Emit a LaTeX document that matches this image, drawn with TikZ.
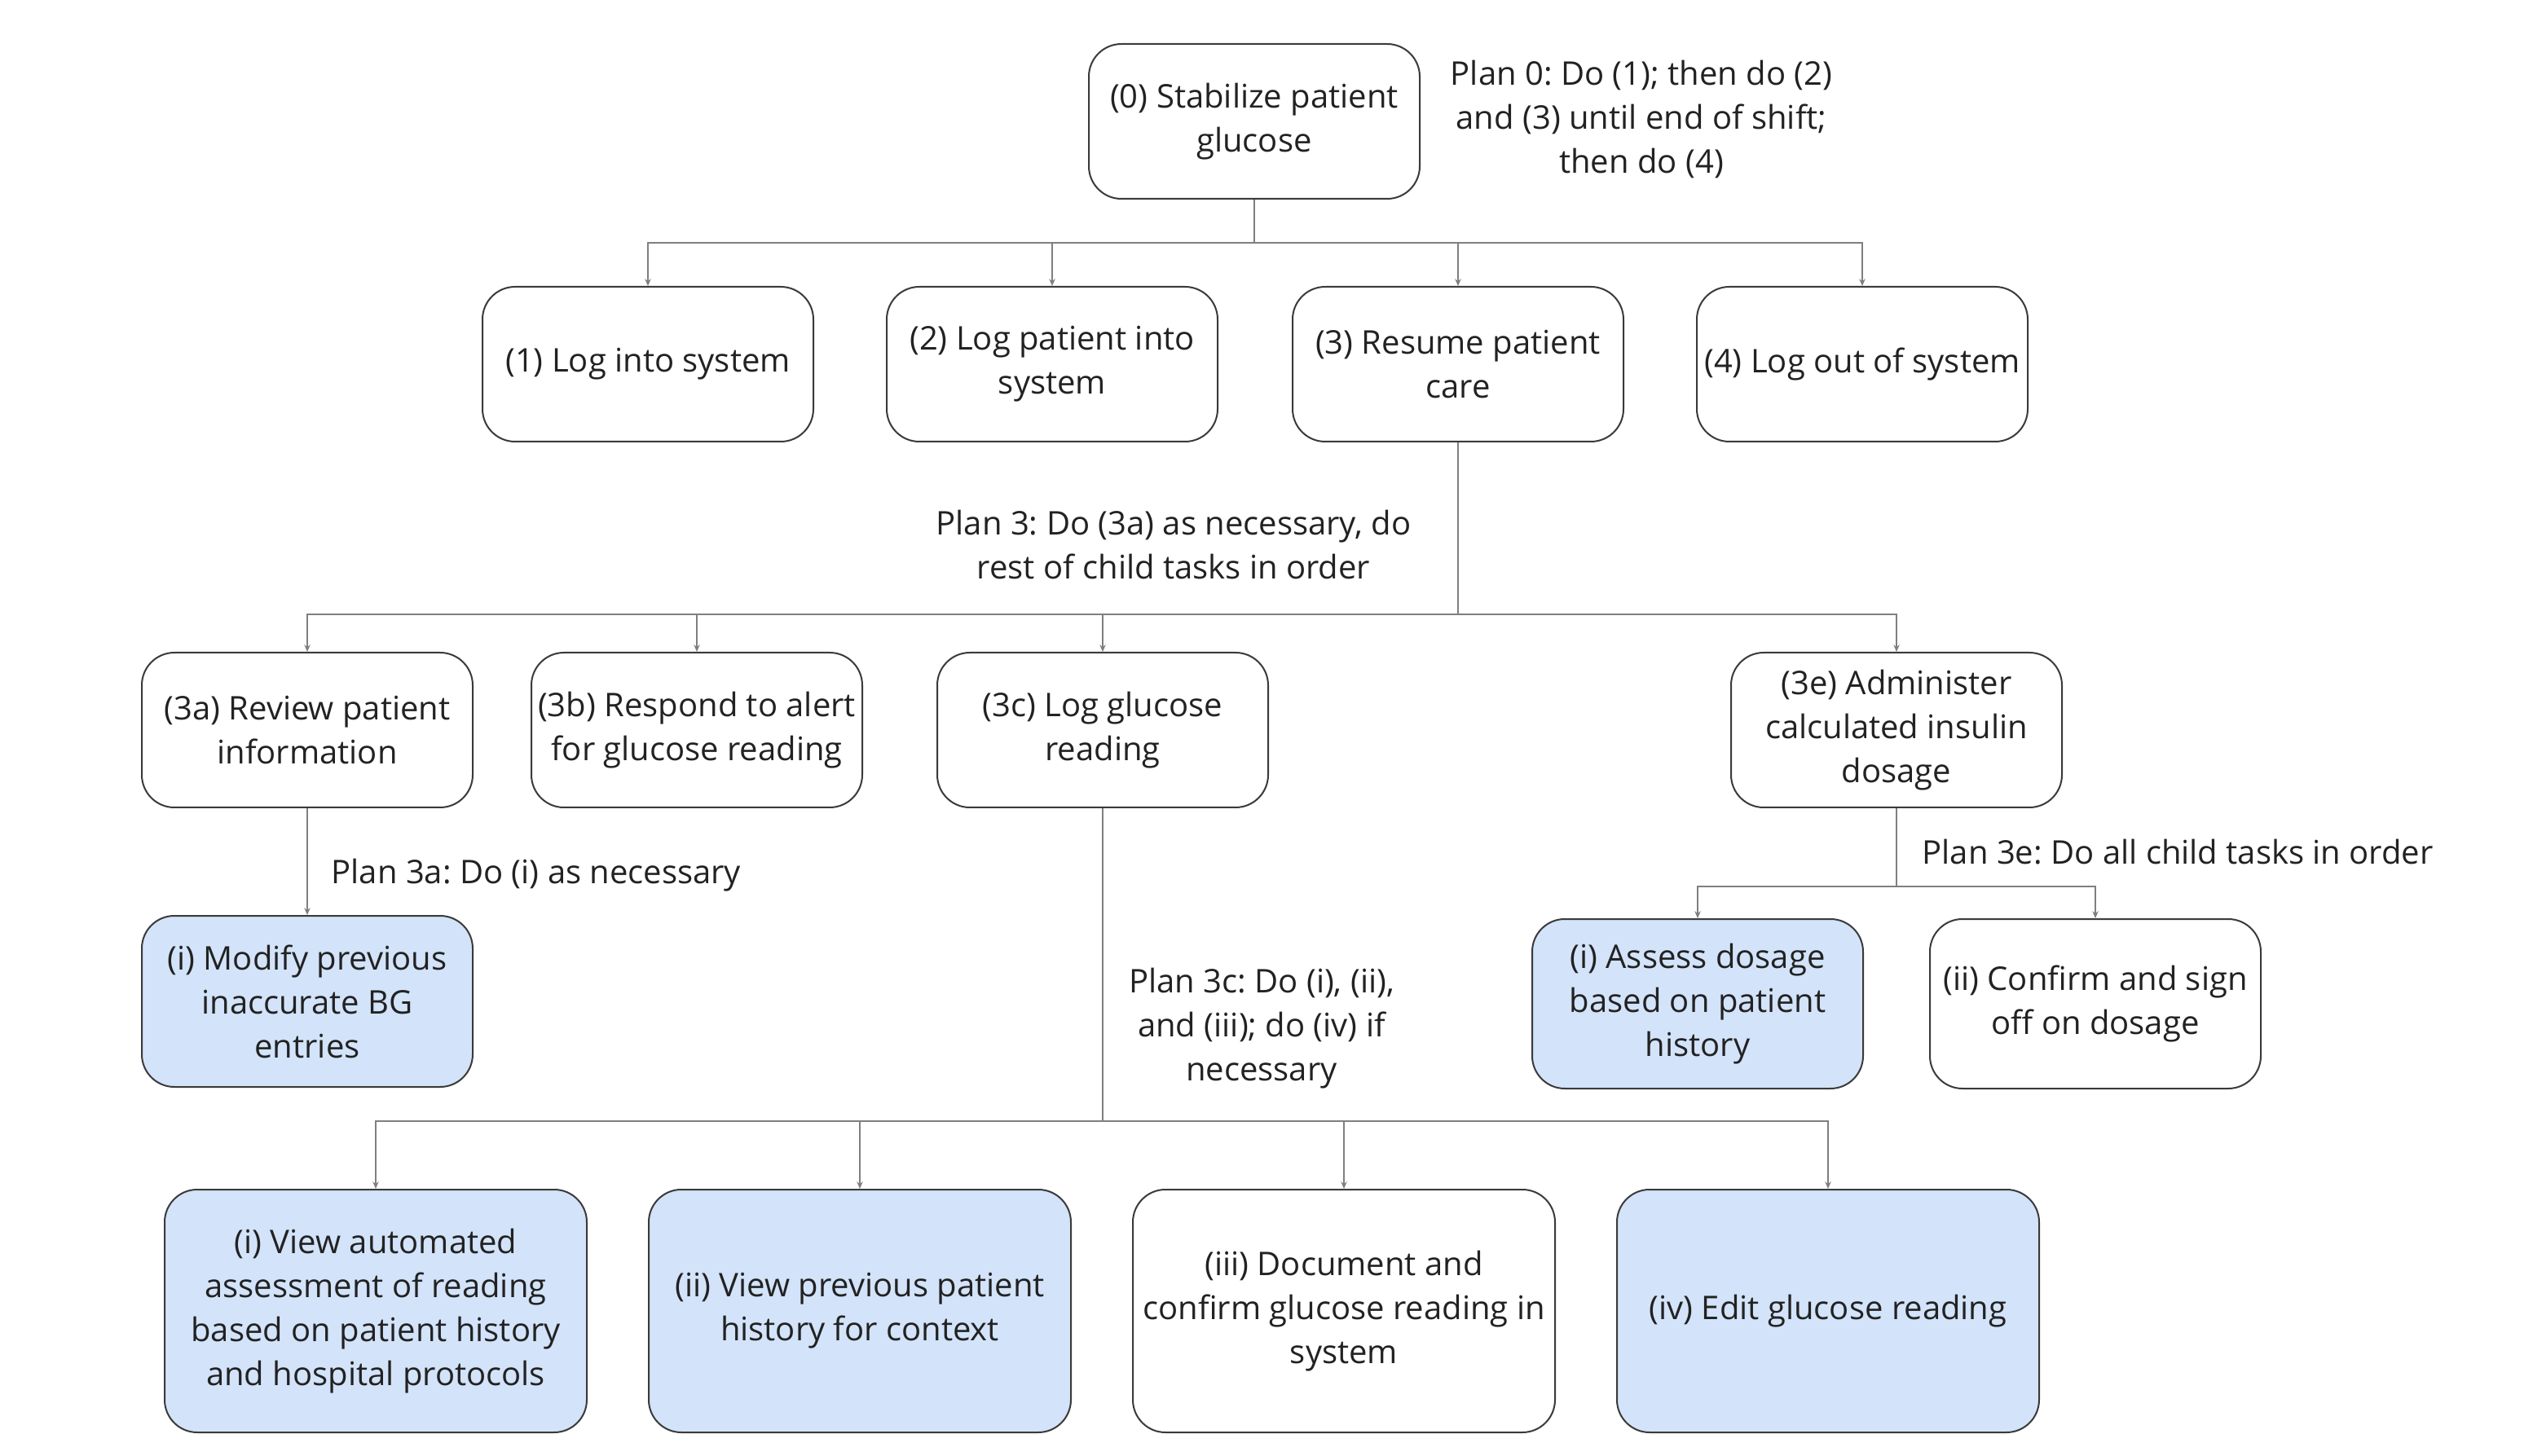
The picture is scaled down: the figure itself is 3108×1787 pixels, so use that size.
\documentclass[tikz,border=0pt]{standalone}
\usepackage{fontspec}
\setmainfont{Open Sans}
\usetikzlibrary{arrows.meta}
\definecolor{boxline}{HTML}{3A3A3A}
\definecolor{connc}{HTML}{7F7F7F}
\definecolor{bluefill}{HTML}{D3E3F9}
\definecolor{txt}{HTML}{222222}
\frenchspacing
\begin{document}
\begin{tikzpicture}[x=0.3pt,y=-0.3pt,
  font=\fontsize{12}{16.2}\selectfont, text=txt,
  task/.style={draw=boxline, line width=0.6pt, rounded corners=12pt, fill=white,
    align=center, minimum width=121.8pt, minimum height=57pt, inner sep=0pt},
  bigtask/.style={task, minimum width=155.4pt, minimum height=89.4pt},
  bluebox/.style={fill=bluefill},
  plan/.style={align=center, inner sep=0pt},
  stem/.style={draw=connc, line width=0.5pt},
  arr/.style={draw=connc, line width=0.5pt, -{Stealth[length=2.6pt,width=2.2pt]}}]
\fill[white] (0,0) rectangle (3108,1787);
\useasboundingbox (0,0) rectangle (3108,1787);

% level 0
\node[task] (n0) at (1539,149) {(0) Stabilize patient\\glucose};
\node[plan] (p0) at (2014,146) {Plan 0: Do (1); then do (2)\\and (3) until end of shift;\\then do (4)};

% level 1
\node[task] (n1) at (795,447) {(1) Log into system};
\node[task] (n2) at (1291,447) {(2) Log patient into\\system};
\node[task] (n3) at (1789,447) {(3) Resume patient\\care};
\node[task] (n4) at (2285,447) {(4) Log out of system};

\coordinate (b0) at (1539,298);
\draw[stem] (n0.south) -- (b0);
\foreach \c in {n1,n2,n3,n4} \draw[arr] (b0) -| (\c.north);

% level 2
\node[plan] (p3) at (1440,669) {Plan 3: Do (3a) as necessary, do\\rest of child tasks in order};
\node[task] (n3a) at (377,896) {(3a) Review patient\\information};
\node[task] (n3b) at (855,896) {(3b) Respond to alert\\for glucose reading};
\node[task] (n3c) at (1353,896) {(3c) Log glucose\\reading};
\node[task] (n3e) at (2327,896) {(3e) Administer\\calculated insulin\\dosage};

\coordinate (b3) at (1789,754);
\draw[stem] (n3.south) -- (b3);
\foreach \c in {n3a,n3b,n3c,n3e} \draw[arr] (b3) -| (\c.north);

% 3a children
\node[task, bluebox, minimum height=63pt] (n3ai) at (377,1229) {(i) Modify previous\\inaccurate BG\\entries};
\draw[arr] (n3a.south) -- (n3ai.north);
\node[plan, anchor=west] (p3a) at (406,1074) {Plan 3a: Do (i) as necessary};

% 3e children
\node[plan, anchor=west] (p3e) at (2358,1046) {Plan 3e: Do all child tasks in order};
\node[task, bluebox, minimum height=62.4pt] (n3ei) at (2083,1232) {(i) Assess dosage\\based on patient\\history};
\node[task, minimum height=62.4pt] (n3eii) at (2571,1232) {(ii) Confirm and sign\\off on dosage};
\coordinate (b3e) at (2327,1088);
\draw[stem] (n3e.south) -- (b3e);
\foreach \c in {n3ei,n3eii} \draw[arr] (b3e) -| (\c.north);

% 3c children
\node[plan] (p3c) at (1548,1262) {Plan 3c: Do (i), (ii),\\and (iii); do (iv) if\\necessary};
\node[bigtask, bluebox] (c1) at (461,1609) {(i) View automated\\assessment of reading\\based on patient history\\and hospital protocols};
\node[bigtask, bluebox] (c2) at (1055,1609) {(ii) View previous patient\\history for context};
\node[bigtask] (c3) at (1649,1609) {(iii) Document and\\confirm glucose reading in\\system};
\node[bigtask, bluebox] (c4) at (2243,1609) {(iv) Edit glucose reading};
\coordinate (b3c) at (1353,1376);
\draw[stem] (n3c.south) -- (b3c);
\foreach \c in {c1,c2,c3,c4} \draw[arr] (b3c) -| (\c.north);
\end{tikzpicture}
\end{document}
